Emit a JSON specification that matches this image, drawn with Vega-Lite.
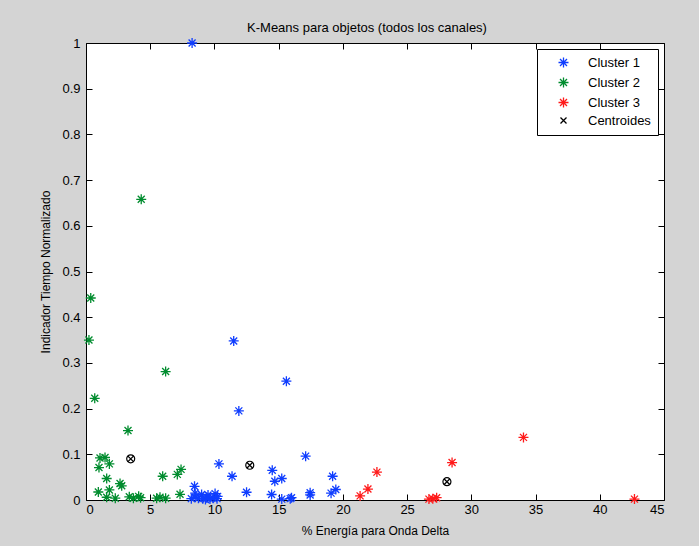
{
  "$schema": "https://vega.github.io/schema/vega-lite/v6.json",
  "autosize": {"type": "none"},
  "width": 578,
  "height": 457,
  "padding": {"left": 86, "top": 43, "right": 35, "bottom": 46},
  "background": "#d4d4d4",
  "title": {
    "text": "K-Means para objetos (todos los canales)",
    "font": "Liberation Sans",
    "fontSize": 13,
    "fontWeight": "normal",
    "color": "black",
    "anchor": "middle",
    "offset": 0,
    "dx": -8
  },
  "config": {
    "view": {"fill": "white", "stroke": "black", "strokeWidth": 1},
    "axis": {
      "labelFont": "Liberation Sans",
      "labelFontSize": 13,
      "labelColor": "black",
      "titleFont": "Liberation Sans",
      "titleFontSize": 12,
      "titleFontWeight": "normal",
      "titleColor": "black",
      "tickColor": "black",
      "tickWidth": 1,
      "tickSize": -6,
      "grid": false,
      "domain": false
    },
    "legend": {
      "labelFont": "Liberation Sans",
      "labelFontSize": 13,
      "labelColor": "black"
    }
  },
  "data": {
    "values": [
      {"x": 8.26, "y": 1.0, "series": "Cluster 1"},
      {"x": 11.5, "y": 0.348, "series": "Cluster 1"},
      {"x": 15.6, "y": 0.26, "series": "Cluster 1"},
      {"x": 11.9, "y": 0.195, "series": "Cluster 1"},
      {"x": 17.1, "y": 0.096, "series": "Cluster 1"},
      {"x": 10.35, "y": 0.079, "series": "Cluster 1"},
      {"x": 14.5, "y": 0.065, "series": "Cluster 1"},
      {"x": 11.37, "y": 0.052, "series": "Cluster 1"},
      {"x": 19.2, "y": 0.052, "series": "Cluster 1"},
      {"x": 15.24, "y": 0.047, "series": "Cluster 1"},
      {"x": 14.7, "y": 0.041, "series": "Cluster 1"},
      {"x": 8.45, "y": 0.03, "series": "Cluster 1"},
      {"x": 19.45, "y": 0.023, "series": "Cluster 1"},
      {"x": 12.5, "y": 0.017, "series": "Cluster 1"},
      {"x": 17.45, "y": 0.016, "series": "Cluster 1"},
      {"x": 17.45, "y": 0.011, "series": "Cluster 1"},
      {"x": 19.08, "y": 0.015, "series": "Cluster 1"},
      {"x": 8.5, "y": 0.015, "series": "Cluster 1"},
      {"x": 14.45, "y": 0.012, "series": "Cluster 1"},
      {"x": 15.24, "y": 0.002, "series": "Cluster 1"},
      {"x": 15.9, "y": 0.003, "series": "Cluster 1"},
      {"x": 16.0, "y": 0.005, "series": "Cluster 1"},
      {"x": 8.2, "y": 0.003, "series": "Cluster 1"},
      {"x": 8.5, "y": 0.006, "series": "Cluster 1"},
      {"x": 8.75, "y": 0.004, "series": "Cluster 1"},
      {"x": 9.0, "y": 0.012, "series": "Cluster 1"},
      {"x": 9.1, "y": 0.003, "series": "Cluster 1"},
      {"x": 9.3, "y": 0.001, "series": "Cluster 1"},
      {"x": 9.4, "y": 0.006, "series": "Cluster 1"},
      {"x": 9.5, "y": 0.011, "series": "Cluster 1"},
      {"x": 9.65, "y": 0.002, "series": "Cluster 1"},
      {"x": 9.9, "y": 0.004, "series": "Cluster 1"},
      {"x": 10.05, "y": 0.014, "series": "Cluster 1"},
      {"x": 10.2, "y": 0.003, "series": "Cluster 1"},
      {"x": 10.25, "y": 0.008, "series": "Cluster 1"},
      {"x": 0.37, "y": 0.442, "series": "Cluster 2"},
      {"x": 0.23, "y": 0.35, "series": "Cluster 2"},
      {"x": 0.68, "y": 0.2225, "series": "Cluster 2"},
      {"x": 4.3, "y": 0.658, "series": "Cluster 2"},
      {"x": 6.2, "y": 0.281, "series": "Cluster 2"},
      {"x": 3.27, "y": 0.152, "series": "Cluster 2"},
      {"x": 1.09, "y": 0.092, "series": "Cluster 2"},
      {"x": 1.48, "y": 0.093, "series": "Cluster 2"},
      {"x": 1.01, "y": 0.071, "series": "Cluster 2"},
      {"x": 1.82, "y": 0.079, "series": "Cluster 2"},
      {"x": 1.61, "y": 0.047, "series": "Cluster 2"},
      {"x": 0.96, "y": 0.0175, "series": "Cluster 2"},
      {"x": 1.82, "y": 0.022, "series": "Cluster 2"},
      {"x": 1.61, "y": 0.006, "series": "Cluster 2"},
      {"x": 2.28, "y": 0.004, "series": "Cluster 2"},
      {"x": 2.65, "y": 0.036, "series": "Cluster 2"},
      {"x": 2.78, "y": 0.031, "series": "Cluster 2"},
      {"x": 3.37, "y": 0.007, "series": "Cluster 2"},
      {"x": 3.69, "y": 0.004, "series": "Cluster 2"},
      {"x": 4.1, "y": 0.008, "series": "Cluster 2"},
      {"x": 4.25, "y": 0.005, "series": "Cluster 2"},
      {"x": 5.5, "y": 0.004, "series": "Cluster 2"},
      {"x": 5.76, "y": 0.006, "series": "Cluster 2"},
      {"x": 6.2, "y": 0.004, "series": "Cluster 2"},
      {"x": 5.97, "y": 0.052, "series": "Cluster 2"},
      {"x": 7.11, "y": 0.056, "series": "Cluster 2"},
      {"x": 7.4, "y": 0.067, "series": "Cluster 2"},
      {"x": 7.32, "y": 0.0125, "series": "Cluster 2"},
      {"x": 21.34, "y": 0.009, "series": "Cluster 3"},
      {"x": 21.95, "y": 0.024, "series": "Cluster 3"},
      {"x": 22.65, "y": 0.061, "series": "Cluster 3"},
      {"x": 28.5, "y": 0.082, "series": "Cluster 3"},
      {"x": 34.06, "y": 0.137, "series": "Cluster 3"},
      {"x": 26.7, "y": 0.002, "series": "Cluster 3"},
      {"x": 27.0, "y": 0.003, "series": "Cluster 3"},
      {"x": 27.3, "y": 0.005, "series": "Cluster 3"},
      {"x": 42.7, "y": 0.002, "series": "Cluster 3"},
      {"x": 3.48, "y": 0.09, "series": "Centroides"},
      {"x": 12.75, "y": 0.076, "series": "Centroides"},
      {"x": 28.1, "y": 0.04, "series": "Centroides"}
    ]
  },
  "layer": [
    {
      "mark": {"type": "point", "filled": false, "strokeWidth": 1.3, "size": 100, "opacity": 1},
      "encoding": {
        "x": {
          "field": "x",
          "type": "quantitative",
          "scale": {"domain": [0, 45], "nice": false, "zero": false},
          "axis": {
            "orient": "bottom",
            "values": [0, 5, 10, 15, 20, 25, 30, 35, 40, 45],
            "format": "~g",
            "labelPadding": 9,
            "title": "% Energía para Onda Delta",
            "titlePadding": 9
          }
        },
        "y": {
          "field": "y",
          "type": "quantitative",
          "scale": {"domain": [0, 1], "nice": false, "zero": false},
          "axis": {
            "orient": "left",
            "values": [0, 0.1, 0.2, 0.3, 0.4, 0.5, 0.6, 0.7, 0.8, 0.9, 1],
            "format": "~g",
            "labelPadding": 12,
            "title": "Indicador Tiempo Normalizado",
            "titlePadding": 9
          }
        },
        "color": {
          "field": "series",
          "type": "nominal",
          "scale": {
            "domain": ["Cluster 1", "Cluster 2", "Cluster 3", "Centroides"],
            "range": ["#0f3dff", "#008c2e", "#ff1a1a", "#000000"]
          },
          "legend": {
            "title": null,
            "orient": "top-right",
            "offset": 6,
            "strokeColor": "black",
            "fillColor": "white",
            "cornerRadius": 0,
            "padding": 7,
            "rowPadding": 3,
            "symbolOffset": 13,
            "labelOffset": 18,
            "symbolSize": 100,
            "symbolStrokeWidth": 1.3
          }
        },
        "shape": {
          "field": "series",
          "type": "nominal",
          "scale": {
            "domain": ["Cluster 1", "Cluster 2", "Cluster 3", "Centroides"],
            "range": [
              "M-1,0L1,0M0,-1L0,1M-0.7,-0.7L0.7,0.7M-0.7,0.7L0.7,-0.7",
              "M-1,0L1,0M0,-1L0,1M-0.7,-0.7L0.7,0.7M-0.7,0.7L0.7,-0.7",
              "M-1,0L1,0M0,-1L0,1M-0.7,-0.7L0.7,0.7M-0.7,0.7L0.7,-0.7",
              "M-0.6,-0.6L0.6,0.6M-0.6,0.6L0.6,-0.6"
            ]
          }
        }
      }
    },
    {
      "transform": [{"filter": "datum.series === 'Centroides'"}],
      "mark": {"type": "point", "shape": "circle", "filled": false, "stroke": "black", "strokeWidth": 1.2, "size": 64, "opacity": 1},
      "encoding": {
        "x": {
          "field": "x",
          "type": "quantitative",
          "axis": {
            "orient": "top",
            "values": [0, 5, 10, 15, 20, 25, 30, 35, 40, 45],
            "labels": false,
            "title": null
          }
        },
        "y": {
          "field": "y",
          "type": "quantitative",
          "axis": {
            "orient": "right",
            "values": [0, 0.1, 0.2, 0.3, 0.4, 0.5, 0.6, 0.7, 0.8, 0.9, 1],
            "labels": false,
            "title": null
          }
        }
      }
    }
  ],
  "resolve": {"axis": {"x": "independent", "y": "independent"}}
}
